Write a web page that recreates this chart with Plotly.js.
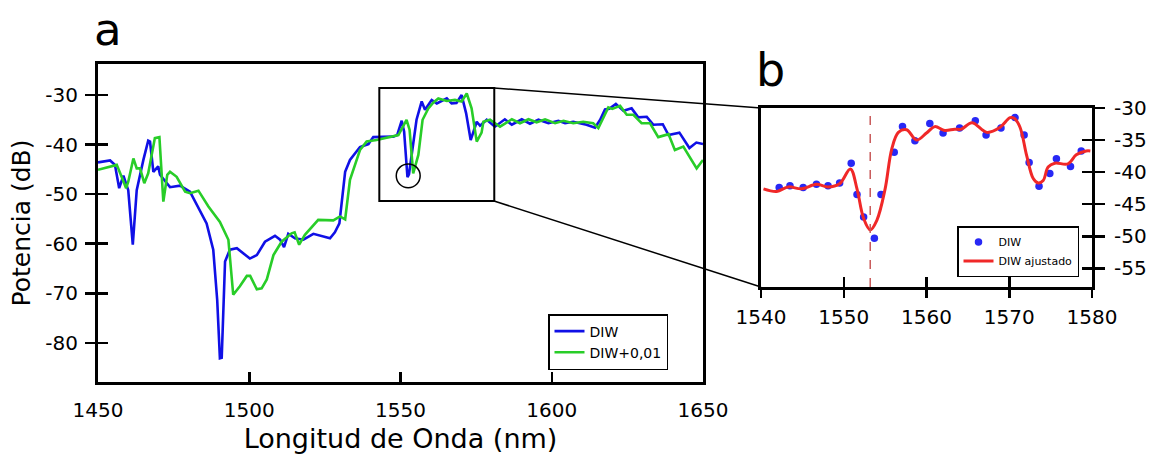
<!DOCTYPE html>
<html>
<head>
<meta charset="utf-8">
<script src="https://cdn.plot.ly/plotly-3.0.1.min.js"></script>
<style>html,body{margin:0;padding:0;background:#fff;}#chart{width:1149px;height:456px;}</style>
</head>
<body>
<div id="chart"></div>
<script>
// ---- Panel a: spectrum (blue = DIW, green = DIW+0,01)
const diwWavelength = [1450,1454,1455.6,1457,1458.4,1460,1461.5,1462.8,1465,1466.6,1467.2,1468.3,1469.9,1470.5,1473.8,1477.1,1480.4,1485.9,1488.1,1489.4,1490.3,1490.9,1492,1493.6,1495.9,1500.2,1502.5,1505.2,1508.5,1510.2,1511.5,1512.9,1515.1,1517.9,1521.2,1526.7,1528.3,1529.8,1531.7,1533.3,1536.6,1539.4,1541,1543.2,1547.6,1548.9,1550.4,1551.2,1552.3,1552.8,1555.3,1557,1558.1,1560.3,1562,1565.3,1566.9,1568.5,1570.2,1571.7,1573.2,1575.2,1576.3,1578.5,1581.2,1584.5,1586.8,1590.1,1592.8,1595.6,1598.9,1602.2,1604.4,1607.1,1611.5,1614.3,1616,1617.6,1619,1621.2,1623.7,1626.4,1628.6,1631.4,1633.6,1636.7,1638.6,1642.2,1645.5,1647.8,1650];
const diwPower = [-43.6,-43.2,-44.1,-48.8,-46.3,-49.2,-60.2,-49.2,-43.1,-39.2,-39.4,-45.5,-44.4,-46.1,-48.6,-48.3,-49.5,-55.9,-61.2,-71.3,-83.1,-83,-63.6,-61.2,-60.9,-63,-62.3,-59.6,-58.4,-59.2,-60.7,-58,-58.9,-59.2,-58,-58.9,-57.7,-55.9,-45.5,-43.1,-40.5,-39.9,-38.5,-38.5,-38.4,-38.1,-35.2,-37.4,-46.6,-46,-35,-31.3,-33,-31,-31.7,-30.7,-31.7,-31.6,-30,-33.7,-39.1,-35.4,-36.2,-35,-36.4,-34.9,-36,-34.9,-35.8,-35,-35.7,-35.2,-35.7,-35.4,-36,-36.6,-35,-32.9,-32.8,-31.8,-33.2,-32.7,-34.5,-34.4,-36,-35.9,-38.1,-37.6,-40.7,-39.6,-39.9];

const diw001Wavelength = [1450,1456.2,1457.8,1459.3,1460,1461.7,1462.8,1463.9,1465.3,1466.6,1468.8,1470.3,1471.6,1472.9,1473.8,1476,1478.8,1480.4,1483.2,1486.5,1490.3,1493.1,1494.7,1496.9,1499.2,1500.3,1502.5,1504.1,1505.8,1508,1510.7,1514,1515,1516.5,1518.4,1522.8,1527.8,1530,1531.7,1533.3,1536.6,1538.8,1542.1,1549.3,1552,1553,1554.2,1555.9,1557.3,1559.2,1560.9,1562.5,1565.3,1568,1570.2,1571.9,1573.5,1575.2,1576.8,1577.4,1579.6,1582.9,1586.8,1589.5,1592.3,1595,1597.8,1601.1,1603.9,1607.1,1610.4,1613.7,1615.4,1618.7,1620,1622.6,1624.8,1627,1629.7,1632.5,1635.2,1638.6,1640.7,1643.5,1647.9,1650];
const diw001Power = [-45.1,-44.1,-46.5,-48.8,-47.5,-42.8,-44.8,-44.8,-47.8,-45.8,-38.7,-38.5,-51.5,-46.1,-45.5,-46.5,-49.5,-49.8,-49.3,-52.5,-55.6,-59.2,-70.3,-68.6,-66.5,-66.5,-69.2,-69,-67.2,-62.3,-59.6,-57.9,-57.7,-60.2,-58.2,-55.2,-55.3,-54.5,-55.1,-47.1,-41.1,-39.4,-39.1,-38.1,-35,-37,-45.8,-42.1,-35,-32.7,-31.5,-30.7,-31.2,-31,-31.3,-29.7,-32.7,-39.4,-37.6,-35.4,-35,-36.4,-34.9,-35.7,-34.9,-35.5,-34.9,-35.7,-35.2,-35.7,-35.4,-35.7,-36.7,-32.5,-32.8,-32.2,-34,-34,-35.7,-35.7,-38.5,-37.9,-41.1,-40.4,-44.8,-43.1];

// ---- Panel b: zoom on the dip (measured points + fitted curve)
const zoomWavelength = [1542.2,1543.5,1545.1,1546.7,1548.1,1549.5,1550.9,1551.6,1552.4,1553.7,1554.5,1556.1,1557.1,1558.6,1560.4,1562,1564,1565.9,1567.2,1569,1570.7,1571.8,1572.4,1573.6,1574.9,1575.7,1577.4,1578.7];
const zoomPower = [-42.4,-42.1,-42.4,-41.9,-42.1,-41.7,-38.6,-43.5,-47,-50.3,-43.5,-36.9,-32.9,-35.1,-32.4,-33.9,-33.1,-32,-34.2,-33.1,-31.5,-34.2,-38.5,-42.2,-40.2,-37.9,-39.1,-36.7];

const fitWavelength = [1540.3,1541.9,1543.3,1544.9,1546.7,1548.1,1549.5,1550.8,1551.6,1552.4,1553.2,1554,1555,1555.8,1556.6,1557.6,1558.8,1560,1561,1562.2,1563.4,1564.2,1565.5,1567.3,1568.9,1570.1,1570.6,1571.3,1572.1,1572.9,1573.5,1574.1,1574.7,1575.5,1577.1,1578.1,1579.3,1579.8];
const fitPower = [-42.6,-43,-42.3,-42.6,-41.9,-42.3,-41.8,-39.5,-42.6,-47.2,-49,-47.5,-42.6,-36.4,-33.8,-33.4,-35,-33.9,-32.9,-33.5,-33.3,-33.3,-32.3,-33.8,-33,-31.5,-31.6,-33,-37.4,-41,-41.7,-41.3,-39.2,-38.6,-38.7,-37.3,-36.7,-36.7];

const dipWavelength = 1553.2;
const zoomBoxX = [1543, 1581];
const zoomBoxY = [-51.4, -28.6];
const dipCircle = {x: [1548.6, 1556.5], y: [-48.7, -43.9]};

const xTicksA = [1450, 1500, 1550, 1600, 1650];
const yTicksA = [-80, -70, -60, -50, -40, -30];
const xTicksB = [1540, 1550, 1560, 1570, 1580];
const yTicksB = [-55, -50, -45, -40, -35, -30];

const FONT = 'DejaVu Sans, Verdana, sans-serif';
const BLUE = 'rgb(16,16,230)';
const GREEN = 'rgb(40,205,40)';
const RED = 'rgb(240,40,40)';

const rangeXA = [1450, 1650], rangeYA = [-87.9, -23.75];
const rangeXB = [1540, 1580], rangeYB = [-57.9, -30];

const traces = [
  {x: diwWavelength, y: diwPower, type: 'scatter', mode: 'lines', name: 'DIW',
   line: {color: BLUE, width: 2.6}, xaxis: 'x', yaxis: 'y', legend: 'legend'},
  {x: diw001Wavelength, y: diw001Power, type: 'scatter', mode: 'lines', name: 'DIW+0,01',
   line: {color: GREEN, width: 2.6}, xaxis: 'x', yaxis: 'y', legend: 'legend'},
  {x: zoomWavelength, y: zoomPower, type: 'scatter', mode: 'markers', name: 'DIW',
   marker: {color: 'rgb(40,40,245)', size: 7.5}, xaxis: 'x2', yaxis: 'y2', legend: 'legend2'},
  {x: fitWavelength, y: fitPower, type: 'scatter', mode: 'lines', name: 'DIW ajustado',
   line: {color: RED, width: 3, shape: 'spline', smoothing: 1}, xaxis: 'x2', yaxis: 'y2', legend: 'legend2'},
  // invisible helpers so the tick-only overlay axes exist
  {x: rangeXA, y: rangeYA, mode: 'none', xaxis: 'x3', yaxis: 'y3', showlegend: false, hoverinfo: 'skip'},
  {x: rangeXB, y: rangeYB, mode: 'none', xaxis: 'x4', yaxis: 'y4', showlegend: false, hoverinfo: 'skip'}
];

const domXA = [98/1149, 703/1149], domYA = [1-382/456, 1-64/456];
const domXB = [761/1149, 1092/1149], domYB = [1-287/456, 1-108/456];

const baseAxis = {
  showgrid: false, zeroline: false, showline: true, linecolor: 'black', linewidth: 3,
  mirror: true, tickcolor: 'black', tickwidth: 2.5, fixedrange: true,
  tickfont: {family: FONT, size: 20, color: 'black'}
};

const layout = {
  width: 1149, height: 456,
  margin: {l: 0, r: 0, t: 0, b: 0, pad: 0},
  paper_bgcolor: 'white', plot_bgcolor: 'white',
  font: {family: FONT, color: 'black'},
  xaxis: Object.assign({}, baseAxis, {
    domain: domXA, range: rangeXA, anchor: 'y', tickvals: xTicksA, ticktext: xTicksA.map(String),
    ticks: 'inside', ticklen: 10, ticklabelstandoff: 8,
    title: {text: 'Longitud de Onda (nm)', font: {family: FONT, size: 27, color: 'black'}, standoff: 9}
  }),
  yaxis: Object.assign({}, baseAxis, {
    domain: domYA, range: rangeYA, anchor: 'x', tickvals: yTicksA, ticktext: yTicksA.map(String),
    ticks: 'outside', ticklen: 10, ticklabelstandoff: 3,
    title: {text: 'Potencia (dB)', font: {family: FONT, size: 25, color: 'black'}, standoff: 8}
  }),
  xaxis3: {overlaying: 'x', anchor: 'y3', range: rangeXA, showgrid: false, zeroline: false, showline: false,
    showticklabels: false, ticks: '', fixedrange: true},
  yaxis3: {overlaying: 'y', anchor: 'x3', side: 'left', range: rangeYA, tickvals: yTicksA, showgrid: false,
    zeroline: false, showline: false, showticklabels: false, ticks: 'inside', ticklen: 10,
    tickwidth: 2.5, tickcolor: 'black', fixedrange: true},
  xaxis2: Object.assign({}, baseAxis, {
    domain: domXB, range: rangeXB, anchor: 'y2', tickvals: xTicksB, ticktext: xTicksB.map(String),
    ticks: 'outside', ticklen: 8, ticklabelstandoff: 2
  }),
  yaxis2: Object.assign({}, baseAxis, {
    domain: domYB, range: rangeYB, anchor: 'x2', side: 'right', tickvals: yTicksB, ticktext: yTicksB.map(String),
    ticks: 'outside', ticklen: 10, ticklabelstandoff: 5
  }),
  xaxis4: {overlaying: 'x2', anchor: 'y4', range: rangeXB, tickvals: xTicksB, showgrid: false, zeroline: false,
    showline: false, showticklabels: false, ticks: 'inside', ticklen: 10, tickwidth: 2.5, tickcolor: 'black', fixedrange: true},
  yaxis4: {overlaying: 'y2', anchor: 'x4', side: 'right', range: rangeYB, tickvals: yTicksB, showgrid: false,
    zeroline: false, showline: false, showticklabels: false, ticks: 'inside', ticklen: 10,
    tickwidth: 2.5, tickcolor: 'black', fixedrange: true},
  legend: {x: 548/1149, y: 1-314/456, xanchor: 'left', yanchor: 'top', bgcolor: 'white',
    bordercolor: 'black', borderwidth: 1.5, font: {family: FONT, size: 14, color: 'black'},
    itemwidth: 30, tracegroupgap: 0},
  legend2: {x: 957/1149, y: 1-226/456, xanchor: 'left', yanchor: 'top', bgcolor: 'white',
    bordercolor: 'black', borderwidth: 1.5, font: {family: FONT, size: 11, color: 'black'},
    itemwidth: 30, tracegroupgap: 0},
  shapes: [
    {type: 'rect', xref: 'x', yref: 'y', x0: zoomBoxX[0], x1: zoomBoxX[1], y0: zoomBoxY[0], y1: zoomBoxY[1],
     line: {color: 'black', width: 2}},
    {type: 'circle', xref: 'x', yref: 'y', x0: dipCircle.x[0], x1: dipCircle.x[1], y0: dipCircle.y[0], y1: dipCircle.y[1],
     line: {color: 'black', width: 1.5}},
    {type: 'line', xref: 'paper', yref: 'paper', x0: 494/1149, y0: 1-88/456, x1: domXB[0], y1: domYB[1],
     line: {color: 'black', width: 1.5}},
    {type: 'line', xref: 'paper', yref: 'paper', x0: 494/1149, y0: 1-201/456, x1: domXB[0], y1: domYB[0],
     line: {color: 'black', width: 1.5}},
    {type: 'line', xref: 'x2', yref: 'y2 domain', x0: dipWavelength, x1: dipWavelength, y0: 0, y1: 1,
     line: {color: 'rgb(200,90,90)', width: 1.5, dash: 'dash'}}
  ],
  annotations: [
    {text: 'a', xref: 'paper', yref: 'paper', x: 92/1149, y: 1-30/456, xanchor: 'left', yanchor: 'middle',
     showarrow: false, font: {family: FONT, size: 45, color: 'black'}},
    {text: 'b', xref: 'paper', yref: 'paper', x: 754/1149, y: 1-70/456, xanchor: 'left', yanchor: 'middle',
     showarrow: false, font: {family: FONT, size: 46, color: 'black'}}
  ]
};

Plotly.newPlot('chart', traces, layout, {staticPlot: true, displayModeBar: false});
</script>
</body>
</html>
